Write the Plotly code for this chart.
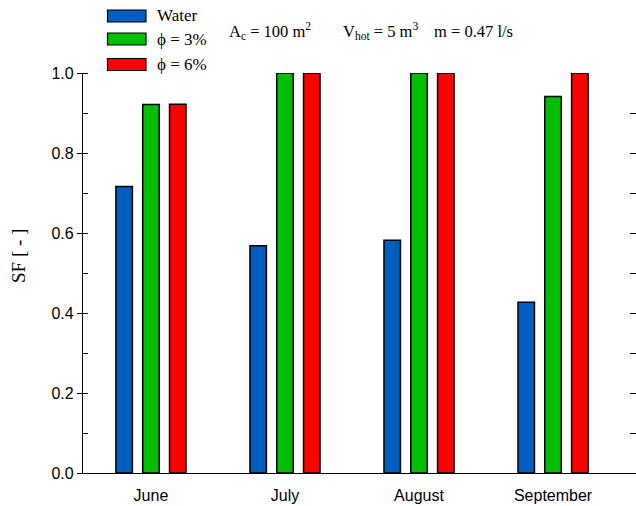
import plotly.graph_objects as go

# Solar fraction per month for pure water and two nanofluid concentrations
months = ["June", "July", "August", "September"]
sf_water = [0.716, 0.568, 0.582, 0.427]
sf_phi3 = [0.921, 1.0, 1.0, 0.941]
sf_phi6 = [0.922, 1.0, 1.0, 1.0]
series_names = ["Water", "ϕ = 3%", "ϕ = 6%"]
series_colors = ["#005EBE", "#00BE00", "#FF0000"]

SERIF = "'Liberation Serif', 'Times New Roman', Times, serif"
SANS = "'Liberation Sans', Arial, Helvetica, sans-serif"

W, H = 636, 506
L, R, T, B = 83, 0, 73, 33
PW, PH = W - L - R, H - T - B


def px(x):
    return (x - L) / PW


def py(y):
    return (H - B - y) / PH


fig = go.Figure()
for name, vals, col in zip(series_names, [sf_water, sf_phi3, sf_phi6], series_colors):
    fig.add_trace(go.Bar(
        x=months, y=vals, name=name,
        marker=dict(color=col, line=dict(color="black", width=1.5)),
        showlegend=False, cliponaxis=False,
    ))

# Hidden trace that carries the right-hand tick marks
fig.add_trace(go.Scatter(x=[months[0]], y=[0], yaxis="y2", mode="markers",
                         marker=dict(opacity=0), showlegend=False, hoverinfo="skip"))

# Legend drawn as wide swatches with serif labels
shapes = []
annotations = []
legend_rows = [(10, 22), (33, 45), (58.5, 70.5)]
for (y0, y1), name, col in zip(legend_rows, series_names, series_colors):
    shapes.append(dict(type="rect", xref="paper", yref="paper",
                       x0=px(107.5), x1=px(146), y0=py(y1), y1=py(y0),
                       fillcolor=col, line=dict(color="black", width=1.2)))
    annotations.append(dict(xref="paper", yref="paper", x=px(155), y=py((y0 + y1) / 2),
                            xanchor="left", yanchor="middle", showarrow=False,
                            text=name, font=dict(family=SERIF, size=17, color="black")))

for x0, txt in [(227, "A<sub>c</sub> = 100 m<sup>2</sup>"),
                (341, "V<sub>hot</sub> = 5 m<sup>3</sup>"),
                (432, "m = 0.47 l/s")]:
    annotations.append(dict(xref="paper", yref="paper", x=px(x0), y=py(31),
                            xanchor="left", yanchor="middle", showarrow=False,
                            text=txt, font=dict(family=SERIF, size=16.5, color="black")))

annotations.append(dict(xref="paper", yref="paper", x=px(18), y=py(256),
                        xanchor="center", yanchor="middle", showarrow=False, textangle=-90,
                        text="SF [ - ]", font=dict(family=SERIF, size=19, color="black")))

fig.update_layout(
    width=W, height=H,
    margin=dict(l=L, r=R, t=T, b=B),
    paper_bgcolor="white", plot_bgcolor="white",
    font=dict(family=SANS, color="black"),
    barmode="group", bargap=0.4, bargroupgap=0.385,
    shapes=shapes, annotations=annotations,
    xaxis=dict(
        type="category", range=[-0.507, 3.619],
        showline=True, linecolor="black", linewidth=1.2,
        ticks="", showgrid=False, zeroline=False,
        tickfont=dict(family=SANS, size=16, color="black"),
        ticklabelstandoff=8,
    ),
    yaxis=dict(
        range=[0, 1.0], dtick=0.2, tickformat=".1f",
        showline=True, linecolor="black", linewidth=1.2,
        ticks="outside", ticklen=5, tickwidth=1, tickcolor="black",
        minor=dict(dtick=0.1, ticks="inside", ticklen=5, tickwidth=1, tickcolor="black"),
        showgrid=False, zeroline=False,
        tickfont=dict(family=SANS, size=16, color="black"),
    ),
    yaxis2=dict(
        overlaying="y", side="right", range=[0, 1.0], dtick=0.1,
        ticks="inside", ticklen=6, tickwidth=1, tickcolor="black",
        showticklabels=False, showline=False, showgrid=False, zeroline=False,
    ),
)

fig.write_html("out.html")
